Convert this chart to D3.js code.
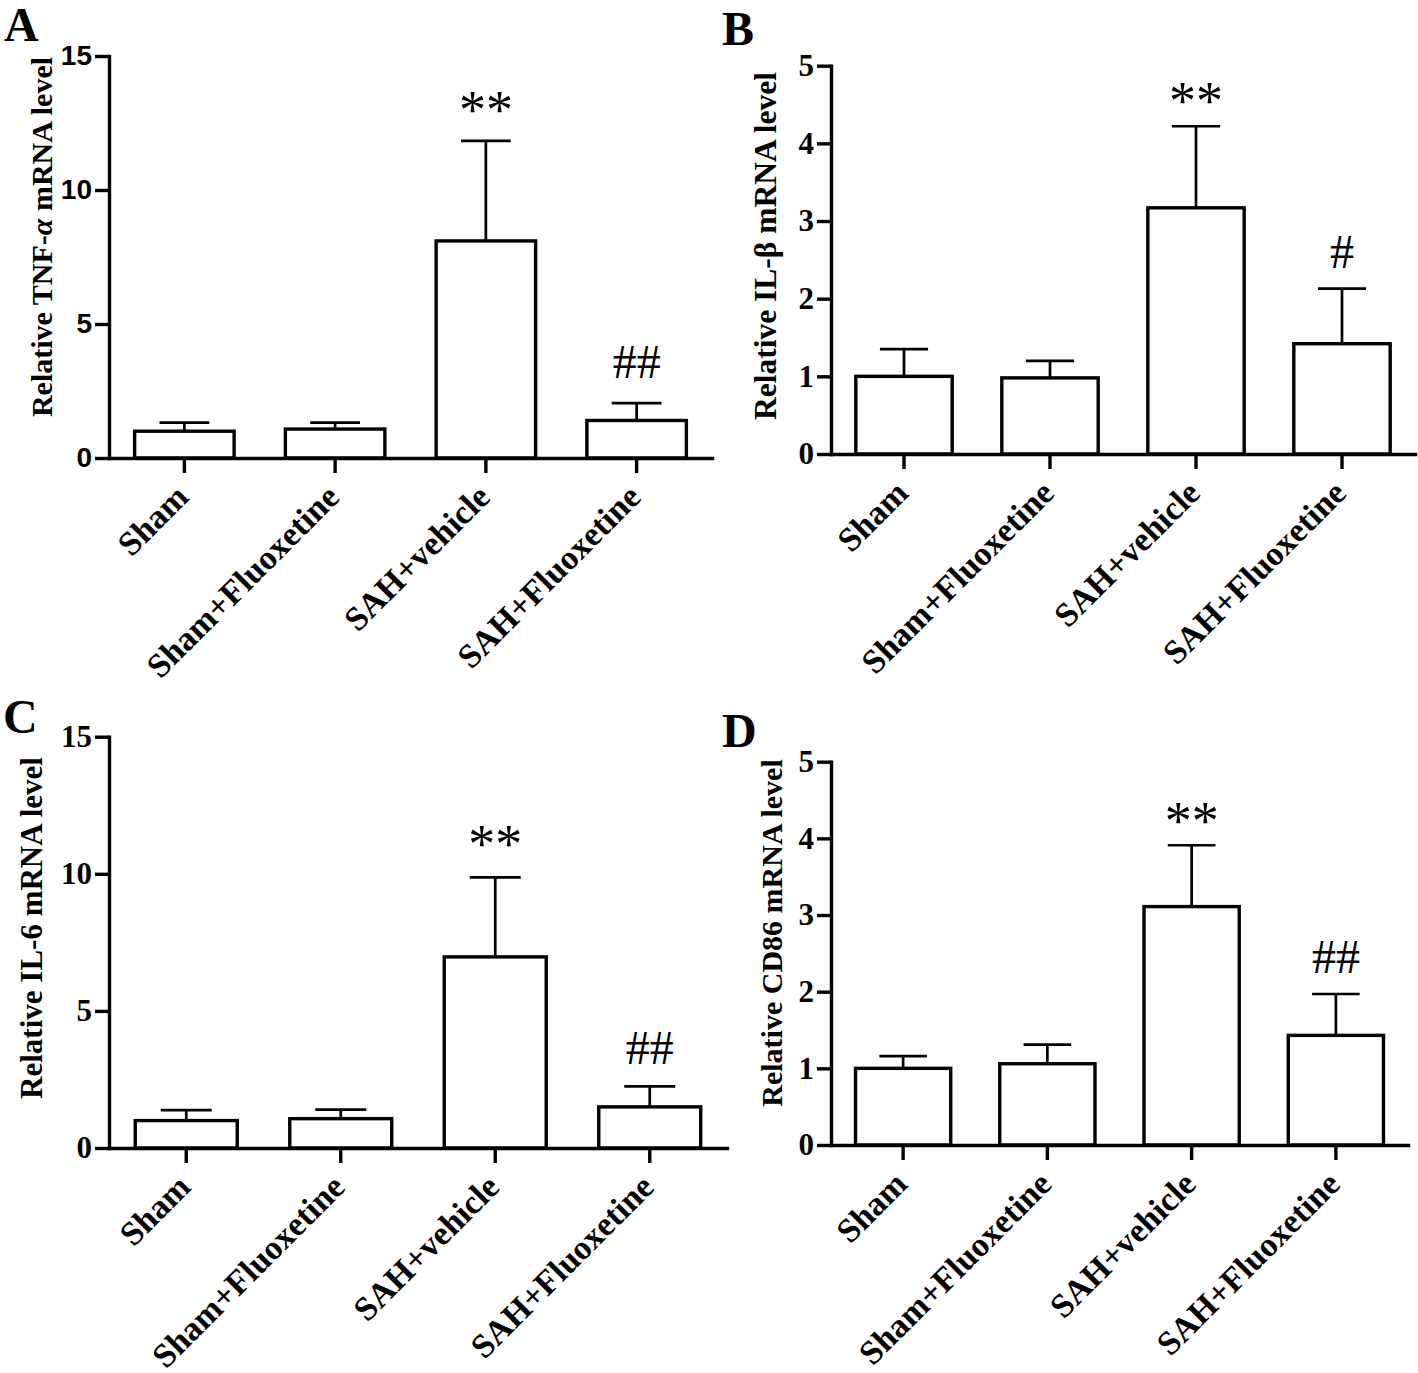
<!DOCTYPE html>
<html><head><meta charset="utf-8">
<script src="https://cdn.jsdelivr.net/npm/d3@7"></script>
<style>body{margin:0;background:#fff}</style>
</head><body><svg id="c" width="1418" height="1373"></svg>
<script>
const categories = ["Sham", "Sham+Fluoxetine", "SAH+vehicle", "SAH+Fluoxetine"];

const tnfMean = [1.00, 1.08, 8.10, 1.40];
const tnfSem  = [0.32, 0.24, 3.73, 0.65];
const tnfMarks = ["", "", "**", "##"];
const tnfTicks = [0, 5, 10, 15];

const il1bMean = [1.00, 0.98, 3.17, 1.42];
const il1bSem  = [0.35, 0.22, 1.05, 0.71];
const il1bMarks = ["", "", "**", "#"];
const il1bTicks = [0, 1, 2, 3, 4, 5];

const il6Mean = [1.00, 1.07, 6.97, 1.50];
const il6Sem  = [0.38, 0.33, 2.90, 0.75];
const il6Marks = ["", "", "**", "##"];
const il6Ticks = [0, 5, 10, 15];

const cd86Mean = [1.00, 1.06, 3.11, 1.43];
const cd86Sem  = [0.16, 0.25, 0.80, 0.54];
const cd86Marks = ["", "", "**", "##"];
const cd86Ticks = [0, 1, 2, 3, 4, 5];

const SERIF = '"Liberation Serif","Times New Roman",Times,serif';
const SANS = '"Liberation Sans",Arial,Helvetica,sans-serif';

const panels = [
  {letter:"A", lx:4, ly:41, x0:109, x1:712, yb:458, yt:56, mean:tnfMean, sem:tnfSem, marks:tnfMarks, ticks:tnfTicks,
   tickFamily:SANS, tickSize:28, titleSize:30, title:[["Relative TNF-",false],["α",true],[" mRNA level",false]], tx:52, ty:237, starGap:13, hashGap:25},
  {letter:"B", lx:722, ly:45, x0:831, x1:1415, yb:454, yt:65.7, mean:il1bMean, sem:il1bSem, marks:il1bMarks, ticks:il1bTicks,
   tickFamily:SERIF, tickSize:31, titleSize:31.5, title:[["Relative IL-β mRNA level",false]], tx:776, ty:246, starGap:7, hashGap:21},
  {letter:"C", lx:3, ly:733, x0:109, x1:727, yb:1148, yt:736.7, mean:il6Mean, sem:il6Sem, marks:il6Marks, ticks:il6Ticks,
   tickFamily:SERIF, tickSize:31, titleSize:31, title:[["Relative IL-6 mRNA level",false]], tx:42, ty:928, starGap:15, hashGap:22},
  {letter:"D", lx:722, ly:747, x0:831, x1:1408, yb:1145, yt:761.7, mean:cd86Mean, sem:cd86Sem, marks:cd86Marks, ticks:cd86Ticks,
   tickFamily:SERIF, tickSize:31, titleSize:30, title:[["Relative CD86 mRNA level",false]], tx:782, ty:933, starGap:6, hashGap:21}
];

const svg = d3.select("#c");
svg.append("rect").attr("width",1418).attr("height",1373).attr("fill","#fff");

panels.forEach(p => {
  const g = svg.append("g");
  const x = d3.scaleBand().domain(categories).range([p.x0, p.x1]).paddingInner(0.34).paddingOuter(0.17);
  const y = d3.scaleLinear().domain([0, d3.max(p.ticks)]).range([p.yb, p.yt]);

  // panel letter
  g.append("text").attr("x", p.lx).attr("y", p.ly).text(p.letter)
    .attr("font-family", SERIF).attr("font-weight", "bold").attr("font-size", 48);

  // y title
  const t = g.append("text").attr("transform", `translate(${p.tx},${p.ty}) rotate(-90)`)
    .attr("text-anchor", "middle").attr("font-family", SERIF).attr("font-weight", "bold").attr("font-size", p.titleSize);
  p.title.forEach(s => t.append("tspan").text(s[0]).attr("font-style", s[1] ? "italic" : "normal"));

  // bars
  const data = categories.map((c, i) => ({c, m: p.mean[i], s: p.sem[i], mk: p.marks[i]}));
  const bw = x.bandwidth();
  g.selectAll(".err").data(data).enter().append("line")
    .attr("x1", d => x(d.c) + bw/2).attr("x2", d => x(d.c) + bw/2)
    .attr("y1", d => y(d.m)).attr("y2", d => y(d.m + d.s))
    .attr("stroke", "#000").attr("stroke-width", 2.7);
  g.selectAll(".cap").data(data).enter().append("line")
    .attr("x1", d => x(d.c) + bw/4).attr("x2", d => x(d.c) + bw*3/4)
    .attr("y1", d => y(d.m + d.s)).attr("y2", d => y(d.m + d.s))
    .attr("stroke", "#000").attr("stroke-width", 2.7);
  g.selectAll(".bar").data(data).enter().append("rect")
    .attr("x", d => x(d.c)).attr("width", bw)
    .attr("y", d => y(d.m)).attr("height", d => y(0) - y(d.m))
    .attr("fill", "#fff").attr("stroke", "#000").attr("stroke-width", 3.4);

  // significance marks
  g.selectAll(".mk").data(data.filter(d => d.mk)).enter().append("text")
    .attr("x", d => x(d.c) + bw/2)
    .attr("y", d => y(d.m + d.s) - (d.mk[0] === "*" ? p.starGap : p.hashGap))
    .attr("text-anchor", "middle").attr("font-family", SERIF)
    .attr("font-size", d => d.mk[0] === "*" ? 54 : 48).text(d => d.mk);

  // y axis
  const ya = g.append("g").attr("transform", `translate(${p.x0},0)`)
    .call(d3.axisLeft(y).tickValues(p.ticks).tickFormat(d3.format("d")).tickSize(14).tickSizeOuter(0).tickPadding(3));
  ya.select(".domain").attr("stroke-width", 3.4).attr("stroke-linecap", "square");
  ya.selectAll(".tick line").attr("stroke-width", 3.4);
  ya.selectAll(".tick text").attr("font-family", p.tickFamily).attr("font-weight", "bold")
    .attr("font-size", p.tickSize).attr("fill", "#000");

  // x axis
  const xa = g.append("g").attr("transform", `translate(0,${p.yb})`)
    .call(d3.axisBottom(x).tickSize(15).tickSizeOuter(0).tickFormat(""));
  xa.select(".domain").attr("stroke-width", 3.4).attr("stroke-linecap", "square");
  xa.selectAll(".tick line").attr("stroke-width", 3.4);

  g.selectAll(".xl").data(categories).enter().append("text")
    .attr("transform", c => `translate(${x(c) + bw/2 + 6},${p.yb + 41}) rotate(-45)`)
    .attr("text-anchor", "end").attr("font-family", SERIF).attr("font-weight", "bold")
    .attr("font-size", 34).text(c => c);
});
</script>
</body></html>
